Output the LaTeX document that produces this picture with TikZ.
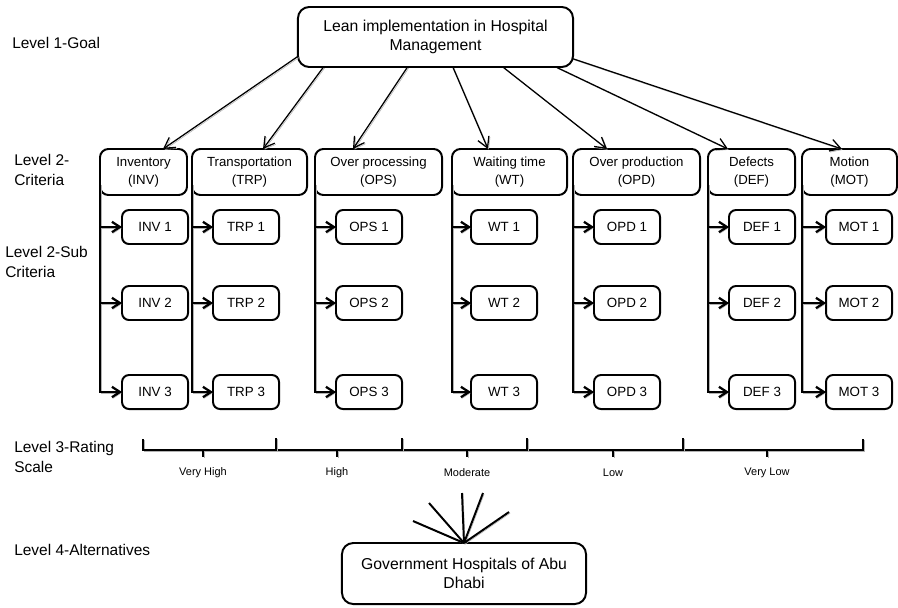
\documentclass[tikz,border=0pt]{standalone}
\usepackage{fontspec}
\setmainfont{Liberation Sans}
\usepackage{tikz}
\usetikzlibrary{arrows.meta, calc}

\begin{document}
\begin{tikzpicture}[x=0.025cm, y=-0.025cm,
                goalbox/.style={draw=black, line width=1.4pt, rectangle, rounded corners=8pt, outer sep=0pt, inner sep=0pt, align=center, font=\fontsize{11.2}{14}\selectfont},
                critbox/.style={draw=black, line width=1.4pt, rectangle, rounded corners=6pt, outer sep=0pt, inner sep=0pt, align=center, minimum height=1.15cm, font=\fontsize{9.4}{12.8}\selectfont},
                subbox/.style={draw=black, line width=1.4pt, rectangle, rounded corners=5pt, outer sep=0pt, inner sep=0pt, minimum width=1.65cm, minimum height=0.85cm, font=\fontsize{9.5}{11}\selectfont},
                levellabel/.style={align=left, anchor=west, inner sep=0pt, font=\fontsize{11}{14}\selectfont},
                scalelabel/.style={inner sep=0pt, font=\fontsize{7.8}{9}\selectfont},
                greyshadow/.style={preaction={draw=black!30, transform canvas={xshift=0.8pt, yshift=-0.8pt}}},
                goalarrow/.style={line width=0.9pt, greyshadow, -{Straight Barb[length=2.6mm, width=3mm]}},
                subarrow/.style={line width=1.6pt, greyshadow, -{Straight Barb[length=2mm, width=2.6mm]}},
                scaleline/.style={line width=1.6pt, greyshadow},
                fanline/.style={line width=1.4pt, greyshadow}
            ]

            \useasboundingbox (0,0) rectangle (898,607);

            % Ebenen
            \node[levellabel] (lvl1) at (12,43) {Level 1-Goal};
            \node[levellabel] (lvl2) at (14,170) {Level 2-\\Criteria};
            \node[levellabel] (lvl2sub) at (5,262) {Level 2-Sub\\Criteria};
            \node[levellabel] (lvl3) at (14,457) {Level 3-Rating\\Scale};
            \node[levellabel] (lvl4) at (14,550) {Level 4-Alternatives};

            % Knoten
            \node[goalbox, minimum width=6.875cm, minimum height=1.5cm] (goal) at (435.5,37) {Lean implementation in Hospital\\Management};

            \node[critbox, minimum width=2.175cm] (inv) at (143.5,172) {Inventory\\(INV)};
            \node[critbox, minimum width=2.875cm] (trp) at (249.5,172) {Transportation\\(TRP)};
            \node[critbox, minimum width=3.175cm] (ops) at (378.5,172) {Over processing\\(OPS)};
            \node[critbox, minimum width=2.875cm] (wt) at (509.5,172) {Waiting time\\(WT)};
            \node[critbox, minimum width=3.175cm] (opd) at (636.5,172) {Over production\\(OPD)};
            \node[critbox, minimum width=2.175cm] (def) at (751.5,172) {Defects\\(DEF)};
            \node[critbox, minimum width=2.375cm] (mot) at (849.5,172) {Motion\\(MOT)};

            \node[goalbox, minimum width=6.1cm, minimum height=1.525cm] (alt) at (464,573.5) {Government Hospitals of Abu\\Dhabi};

            % Kanten zwischen Knoten
            \draw[goalarrow] (goal.188.6) -- ($(inv.north)+(19.5,0)$);
            \draw[goalarrow] (goal.195.5) -- ($(trp.north)+(13.5,0)$);
            \draw[goalarrow] (goal.227.5) -- ($(ops.north)+(-25.5,0)$);
            \draw[goalarrow] (goal.300.3) -- ($(wt.north)+(-21.5,0)$);
            \draw[goalarrow] (goal.336.6) -- ($(opd.north)+(-29.5,0)$);
            \draw[goalarrow] (goal.346.5) -- ($(def.north)+(-23.5,0)$);
            \draw[goalarrow] (goal.351.4) -- ($(mot.north)+(-7.5,0)$);

            % Unterkriterien
            \foreach \c/\lab/\xl in {inv/INV/122, trp/TRP/213, ops/OPS/336, wt/WT/471, opd/OPD/594, def/DEF/729, mot/MOT/826} {
                \foreach \r/\y in {1/227, 2/303, 3/392} {
                    \node[subbox, anchor=west] (\c\r) at (\xl,\y) {\lab{} \r};
                }
                \draw[subarrow] ([yshift=8pt]\c.south west) |- (\c3.west);
                \draw[subarrow] (\c.south west |- \c1.west) -- (\c1.west);
                \draw[subarrow] (\c.south west |- \c2.west) -- (\c2.west);
            }

            % Skala
            \draw[scaleline] (143,439) -- (143,450) -- (863,450) -- (863,439);
            \foreach \x in {276,402,527,683} {
                \draw[scaleline] (\x,438) -- (\x,450);
            }
            \foreach \n/\x/\lab in {vh/203/Very High, hi/337/High, mo/467/Moderate, lo/613/Low, vl/767/Very Low} {
                \draw[scaleline] (\x,450) -- (\x,457);
                \node[scalelabel] (\n) at (\x,473) {\lab};
            }

            % Alternativen
            \foreach \n/\x/\y in {a/413/521, b/429/503, c/462/493, d/483/493, e/509/512} {
                \coordinate (fan\n) at (\x,\y);
                \draw[fanline] (alt.north) -- (fan\n);
            }

        \end{tikzpicture}
\end{document}
